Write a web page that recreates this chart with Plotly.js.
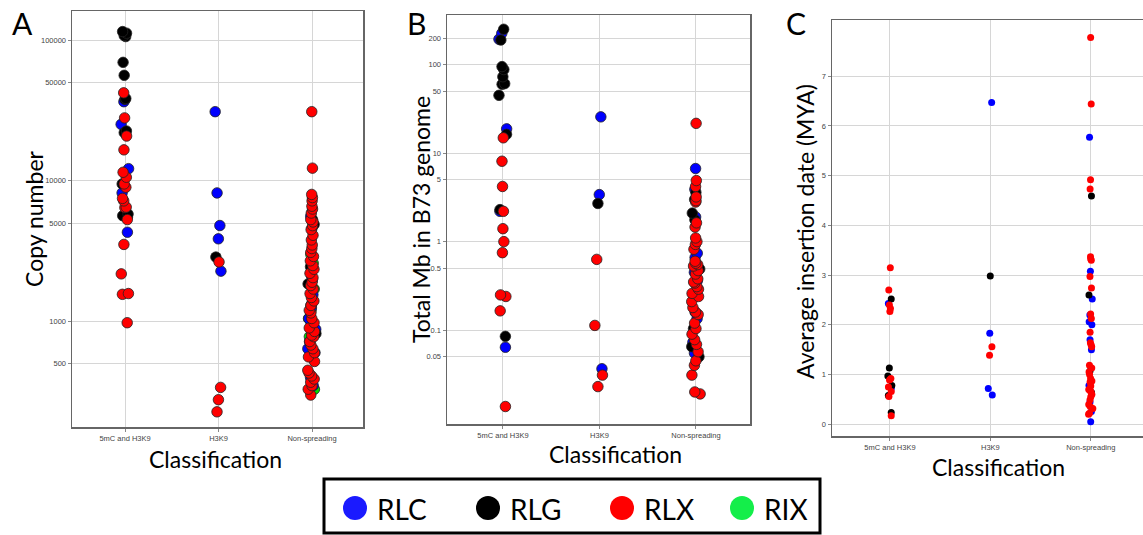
<!DOCTYPE html>
<html>
<head>
<meta charset="utf-8">
<script src="https://cdn.plot.ly/plotly-3.0.1.min.js"></script>
<style>
  html, body { margin: 0; padding: 0; background: #ffffff; }
  #chart { width: 1143px; height: 535px; }
</style>
</head>
<body>
<div id="chart"></div>
<script>
// ---------- Categories ----------
const categories = ['5mC and H3K9', 'H3K9', 'Non-spreading'];
const familyNames = ['RLC', 'RLG', 'RLX', 'RIX'];

// ---------- Panel A: Copy number ----------
const copyRLC_5mC = [36500, 25200, 12200, 8200, 4310];
const copyRLG_5mC = [115000, 112000, 108000, 106000, 69500, 56200, 38500, 37900, 22600, 22000, 9500, 5800, 5650, 5500];
const copyRLX_5mC = [42200, 28000, 20800, 16600, 11500, 10600, 9500, 9000, 7500, 7200, 6500, 6450, 5300, 3530, 2180, 1580, 1560, 980];
const copyRIX_5mC = [];
const copyRLC_H3K9 = [31000, 8200, 4810, 3870, 2280];
const copyRLG_H3K9 = [2870];
const copyRLX_H3K9 = [2650, 340, 278, 228];
const copyRIX_H3K9 = [];
const copyRLC_NS = [5600, 2100, 1950, 1550, 1350, 1250, 1050, 970, 880, 720, 640, 600, 400, 350];
const copyRLG_NS = [5300, 4900, 4600, 2450, 1850, 1300, 820];
const copyRLX_NS = [31000, 12300, 8000, 7600, 7200, 6600, 6300, 5900, 5300, 5100, 4800, 4500, 4100, 3800, 3500, 3300, 3100, 2900, 2700, 2500, 2350, 2200, 2050, 1900, 1800, 1700, 1580, 1480, 1400, 1300, 1200, 1150, 1050, 980, 900, 850, 800, 780, 720, 680, 640, 600, 560, 520, 450, 430, 410, 390, 370, 350, 330, 300];
const copyRIX_NS = [3000, 2600, 2300, 1700, 1200, 1050, 850, 780, 330];

// ---------- Panel B: Total Mb in B73 genome ----------
const mbRLC_5mC = [226, 194, 18.8, 2.2, 0.064];
const mbRLG_5mC = [251, 190, 95, 88, 73, 61, 60, 45, 16.3, 2.3, 0.085];
const mbRLX_5mC = [14.9, 8.1, 4.2, 2.2, 1.4, 1.0, 0.75, 0.25, 0.24, 0.165, 0.0137];
const mbRIX_5mC = [];
const mbRLC_H3K9 = [25.7, 3.4, 0.0366];
const mbRLG_H3K9 = [2.7];
const mbRLX_H3K9 = [0.63, 0.113, 0.031, 0.023];
const mbRIX_H3K9 = [];
const mbRLC_NS = [6.7, 3.9, 1.9, 0.74, 0.66, 0.45, 0.36, 0.16, 0.135, 0.073, 0.055];
const mbRLG_NS = [3.6, 3.0, 2.1, 1.77, 0.49, 0.104, 0.065, 0.05];
const mbRLX_NS = [21.7, 4.9, 4.2, 3.2, 2.9, 2.8, 1.63, 1.46, 1.1, 1.0, 0.93, 0.82, 0.6, 0.57, 0.55, 0.53, 0.47, 0.43, 0.38, 0.35, 0.34, 0.31, 0.29, 0.26, 0.24, 0.21, 0.18, 0.16, 0.15, 0.12, 0.104, 0.09, 0.078, 0.069, 0.057, 0.045, 0.04, 0.031, 0.020, 0.019];
const mbRIX_NS = [];

// ---------- Panel C: Average insertion date (MYA) ----------
const ageRLC_5mC = [2.43, 0.72];
const ageRLG_5mC = [2.52, 1.13, 0.97, 0.78, 0.58, 0.24];
const ageRLX_5mC = [3.15, 2.70, 2.40, 2.33, 2.27, 0.92, 0.89, 0.75, 0.66, 0.56, 0.17];
const ageRIX_5mC = [];
const ageRLC_H3K9 = [6.47, 1.83, 0.72, 0.59];
const ageRLG_H3K9 = [2.98];
const ageRLX_H3K9 = [1.56, 1.39];
const ageRIX_H3K9 = [];
const ageRLC_NS = [5.77, 3.08, 2.52, 2.20, 2.06, 2.00, 1.70, 1.50, 0.78, 0.45, 0.26, 0.05];
const ageRLG_NS = [4.59, 2.60, 1.07, 0.64];
const ageRLX_NS = [7.78, 6.44, 4.92, 4.73, 3.37, 3.33, 3.30, 2.97, 2.74, 2.22, 2.13, 1.85, 1.64, 1.60, 1.56, 1.19, 1.13, 1.05, 1.0, 0.92, 0.87, 0.85, 0.77, 0.70, 0.68, 0.65, 0.60, 0.55, 0.49, 0.40, 0.36, 0.32, 0.22, 0.20];
const ageRIX_NS = [];

// ---------- Tick labels ----------
const copyTickVals = [500, 1000, 5000, 10000, 50000, 100000];
const copyTickText = ['500', '1000', '5000', '10000', '50000', '100000'];
const mbTickVals = [0.05, 0.1, 0.5, 1, 5, 10, 50, 100, 200];
const mbTickText = ['0.05', '0.1', '0.5', '1', '5', '10', '50', '100', '200'];
const ageTickVals = [0, 1, 2, 3, 4, 5, 6, 7];
const ageTickText = ['0', '1', '2', '3', '4', '5', '6', '7'];

// ---------- Styling ----------
const markerColors = { RLC: '#0000ff', RLG: '#000000', RLX: '#ff0000', RIX: '#00dd00' };
const legendColors = { RLC: '#1a1aff', RLG: '#000000', RLX: '#ff0000', RIX: '#14ee4a' };
const drawOrder = ['RIX', 'RLC', 'RLG', 'RLX'];
const W = 1143, H = 535;
const titleFont = 'Lato, "Open Sans", sans-serif';
const tickFont = { family: '"Liberation Sans", Arial, sans-serif', size: 7.5, color: '#444' };

const panelA = {
  RLC: [copyRLC_5mC, copyRLC_H3K9, copyRLC_NS], RLG: [copyRLG_5mC, copyRLG_H3K9, copyRLG_NS],
  RLX: [copyRLX_5mC, copyRLX_H3K9, copyRLX_NS], RIX: [copyRIX_5mC, copyRIX_H3K9, copyRIX_NS]
};
const panelB = {
  RLC: [mbRLC_5mC, mbRLC_H3K9, mbRLC_NS], RLG: [mbRLG_5mC, mbRLG_H3K9, mbRLG_NS],
  RLX: [mbRLX_5mC, mbRLX_H3K9, mbRLX_NS], RIX: [mbRIX_5mC, mbRIX_H3K9, mbRIX_NS]
};
const panelC = {
  RLC: [ageRLC_5mC, ageRLC_H3K9, ageRLC_NS], RLG: [ageRLG_5mC, ageRLG_H3K9, ageRLG_NS],
  RLX: [ageRLX_5mC, ageRLX_H3K9, ageRLX_NS], RIX: [ageRIX_5mC, ageRIX_H3K9, ageRIX_NS]
};

function buildTraces(panel, xa, ya, size, outline, jitter) {
  const out = [];
  drawOrder.forEach(fam => {
    const x = [], y = [];
    panel[fam].forEach((vals, ci) => {
      vals.forEach(v => { x.push(categories[ci]); y.push(v); });
    });
    if (!y.length) return;
    out.push({
      type: 'box', name: fam, x: x, y: y, xaxis: xa, yaxis: ya,
      boxpoints: 'all', jitter: jitter, pointpos: 0,
      fillcolor: 'rgba(0,0,0,0)', line: { width: 0, color: 'rgba(0,0,0,0)' },
      marker: { color: markerColors[fam], size: size, opacity: 1,
                line: { color: outline ? '#222' : markerColors[fam], width: outline ? 0.8 : 0 } },
      showlegend: false, hoverinfo: 'y'
    });
  });
  return out;
}

const data = [].concat(
  buildTraces(panelA, 'x', 'y', 10.5, true, 0.2),
  buildTraces(panelB, 'x2', 'y2', 10.5, true, 0.2),
  buildTraces(panelC, 'x3', 'y3', 7, false, 0.1)
);

function px(xp) { return xp / W; }
function py(yp) { return 1 - yp / H; }

const gridColor = '#d6d6d6';
function xAxis(dom, rng, anchor) {
  return {
    domain: dom, anchor: anchor, type: 'category', categoryorder: 'array', categoryarray: categories,
    range: rng, showgrid: true, gridcolor: gridColor, gridwidth: 1,
    showline: true, mirror: true, linecolor: '#666', linewidth: 1.5,
    ticks: 'outside', ticklen: 3, tickcolor: '#888', tickfont: tickFont,
    zeroline: false, fixedrange: true
  };
}
function yAxis(dom, type, rng, tv, tt, anchor) {
  return {
    domain: dom, anchor: anchor, type: type, range: rng, tickvals: tv, ticktext: tt,
    showgrid: true, gridcolor: gridColor, gridwidth: 1,
    showline: true, mirror: true, linecolor: '#666', linewidth: 1.5,
    ticks: 'outside', ticklen: 3, tickcolor: '#888', tickfont: tickFont,
    zeroline: false, fixedrange: true
  };
}

const annotations = [];
function addText(text, xp, yp, size, angle, xanchor) {
  annotations.push({
    text: text, xref: 'paper', yref: 'paper', x: px(xp), y: py(yp),
    xanchor: xanchor || 'center', yanchor: 'middle', showarrow: false, textangle: angle || 0,
    font: { family: titleFont, size: size, color: '#000' }
  });
}
// Panel letters
addText('A', 22, 23, 30);
addText('B', 416, 23, 30);
addText('C', 796, 23, 30);
// Axis titles
addText('Copy number', 34, 219, 23, -90);
addText('Total Mb in B73 genome', 421, 220, 23, -90);
addText('Average insertion date (MYA)', 805, 232, 23, -90);
addText('Classification', 215, 459, 23);
addText('Classification', 615, 454, 23);
addText('Classification', 998, 467, 23);

// Legend (drawn box)
const shapes = [{
  type: 'rect', xref: 'paper', yref: 'paper',
  x0: px(324), x1: px(820), y0: py(533), y1: py(479),
  line: { color: '#000', width: 3 }, fillcolor: 'rgba(0,0,0,0)'
}];
const legendCenters = [355, 488, 622, 742];
familyNames.forEach((fam, i) => {
  const cx = legendCenters[i], cy = 508, r = 12;
  shapes.push({
    type: 'circle', xref: 'paper', yref: 'paper',
    x0: px(cx - r), x1: px(cx + r), y0: py(cy + r), y1: py(cy - r),
    fillcolor: legendColors[fam], line: { width: 0 }
  });
  addText(fam, cx + 20, cy + 1, 28, 0, 'left');
});

const layout = {
  width: W, height: H, margin: { l: 0, r: 0, t: 0, b: 0 },
  paper_bgcolor: '#ffffff', plot_bgcolor: '#ffffff', showlegend: false,
  boxmode: 'overlay',
  xaxis: xAxis([px(72), px(363)], [-0.567, 2.545], 'y'),
  yaxis: yAxis([py(427), py(11)], 'log', [2.25, 5.207], copyTickVals, copyTickText, 'x'),
  xaxis2: xAxis([px(447), px(750)], [-0.58, 2.56], 'y2'),
  yaxis2: yAxis([py(424), py(15)], 'log', [-2.061, 2.561], mbTickVals, mbTickText, 'x2'),
  xaxis3: xAxis([px(832), 1], [-0.577, 2.52], 'y3'),
  yaxis3: yAxis([py(436), py(20)], 'linear', [-0.235, 8.13], ageTickVals, ageTickText, 'x3'),
  annotations: annotations, shapes: shapes
};

Plotly.newPlot('chart', data, layout, { displayModeBar: false, staticPlot: true });
</script>
</body>
</html>
